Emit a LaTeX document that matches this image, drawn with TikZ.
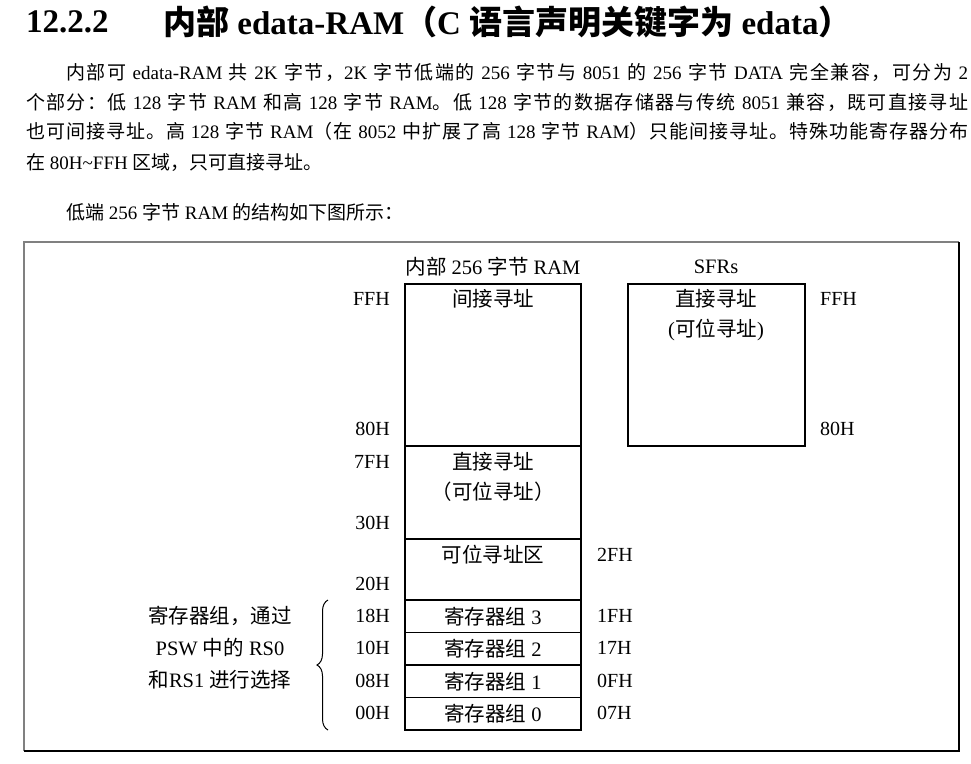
\documentclass[tikz,border=0pt]{standalone}
\usepackage{fontspec}
\setmainfont{Liberation Serif}
\newfontfamily\zhfont{Noto Sans CJK SC}
\newcommand{\zh}[1]{{\zhfont #1}}
% glue between CJK characters, so justified lines spread like the original
\XeTeXinterchartokenstate=1
\newXeTeXintercharclass\zhcls
\newcount\zhc
\zhc="3000 \loop\ifnum\zhc<"A000 \XeTeXcharclass\zhc=\zhcls \advance\zhc by 1 \repeat
\zhc="FF00 \loop\ifnum\zhc<"FFF0 \XeTeXcharclass\zhc=\zhcls \advance\zhc by 1 \repeat
\XeTeXinterchartoks\zhcls\zhcls={\hskip 0pt plus 2pt\relax}
\usetikzlibrary{positioning,decorations.pathreplacing}

\begin{document}
\begin{tikzpicture}[x=1pt, y=-1pt,
  cell/.style={draw, line width=1.3pt, minimum width=176pt, inner sep=0pt, outer sep=0pt},
  addr/.style={font=\fontsize{20}{24}\selectfont, inner sep=0pt},
  lbl/.style={font=\fontsize{20.5}{24}\selectfont, inner sep=0pt},
  note/.style={font=\fontsize{20.5}{32}\selectfont, inner sep=0pt, align=center},
  body/.style={font=\fontsize{19}{24}\selectfont, anchor=west, inner sep=0pt},
  head/.style={font=\fontsize{33}{36}\selectfont\bfseries, anchor=west, inner sep=0pt}]
  \useasboundingbox (0,0) rectangle (971,763);
  \fill[white] (0,0) rectangle (971,763);

  % heading and text
  \node[head] (secno) at (26,22) {12.2.2};
  \node[head] (title) at (163,22) {\zh{内部} edata-RAM\zh{（}C \zh{语言声明关键字为} edata\zh{）}};
  \node[body] (p1) at (66,72) {\makebox[902pt][s]{\zh{内部可} edata-RAM \zh{共} 2K \zh{字节，}2K \zh{字节低端的} 256 \zh{字节与} 8051 \zh{的} 256 \zh{字节} DATA \zh{完全兼容，可分为} 2}};
  \node[body] (p2) at (26,102) {\makebox[942pt][s]{\zh{个部分：低} 128 \zh{字节} RAM \zh{和高} 128 \zh{字节} RAM\zh{。低} 128 \zh{字节的数据存储器与传统} 8051 \zh{兼容，既可直接寻址}}};
  \node[body] (p3) at (26,131) {\makebox[942pt][s]{\zh{也可间接寻址。高} 128 \zh{字节} RAM\zh{（在} 8052 \zh{中扩展了高} 128 \zh{字节} RAM\zh{）只能间接寻址。特殊功能寄存器分布}}};
  \node[body] (p4) at (26,163) {\zh{在} 80H\textasciitilde FFH \zh{区域，只可直接寻址。}};
  \node[body] (p5) at (66,212) {\zh{低端} 256 \zh{字节} RAM \zh{的结构如下图所示：}};

  % frame
  \draw[gray, line width=1.6pt] (24,751) |- (959,242);
  \draw[line width=1.6pt] (24,751) -| (959,242);

  % internal RAM
  \node[lbl] (ramT) at (493,267) {\zh{内部} 256 \zh{字节} RAM};
  \node[cell, minimum height=162pt, anchor=north west] (hi) at (405,284) {};
  \node[cell, minimum height=93pt, anchor=north] (dir) at (hi.south) {};
  \node[cell, minimum height=61pt, anchor=north] (bit) at (dir.south) {};
  \node[cell, minimum height=32.5pt, anchor=north] (rb3) at (bit.south) {};
  \node[cell, minimum height=32.5pt, anchor=north] (rb2) at (rb3.south) {};
  \node[cell, minimum height=32.5pt, anchor=north] (rb1) at (rb2.south) {};
  \node[cell, minimum height=32.5pt, anchor=north] (rb0) at (rb1.south) {};
  \node[lbl] (hiL) at (493,299) {\zh{间接寻址}};
  \node[lbl] (dirL) at (493,462) {\zh{直接寻址}};
  \node[lbl] (dirL2) at (493,492) {\zh{（可位寻址）}};
  \node[lbl] (bitL) at (493,555) {\zh{可位寻址区}};
  \foreach \i in {0,...,3}
    \node[lbl] (rb\i L) at (rb\i) {\zh{寄存器组} \i};

  % SFRs
  \node[lbl] (sfrT) at (716,267) {SFRs};
  \node[cell, minimum width=177pt, minimum height=162pt, anchor=north west] (sfr) at (628,284) {};
  \node[lbl] (sfrL) at (716,299) {\zh{直接寻址}};
  \node[lbl] (sfrL2) at (716,330) {(\zh{可位寻址})};

  % addresses
  \foreach \t/\y in {FFH/299, 80H/429, 7FH/462, 30H/523, 20H/584, 18H/616, 10H/648, 08H/681, 00H/713}
    \node[addr, anchor=east] (l\t) at (390,\y) {\t};
  \foreach \t/\y in {2FH/555, 1FH/616, 17H/648, 0FH/681, 07H/713}
    \node[addr, anchor=west] (r\t) at (597,\y) {\t};
  \foreach \t/\y in {FFH/299, 80H/429}
    \node[addr, anchor=west] (s\t) at (820,\y) {\t};

  % register banks
  \draw[decorate, decoration={brace, amplitude=11pt}, line width=1pt] (328,730) -- (328,600);
  \node[note] (grpL) at (220,648) {\zh{寄存器组，通过}\\PSW \zh{中的} RS0\\\zh{和}RS1 \zh{进行选择}};
\end{tikzpicture}
\end{document}
